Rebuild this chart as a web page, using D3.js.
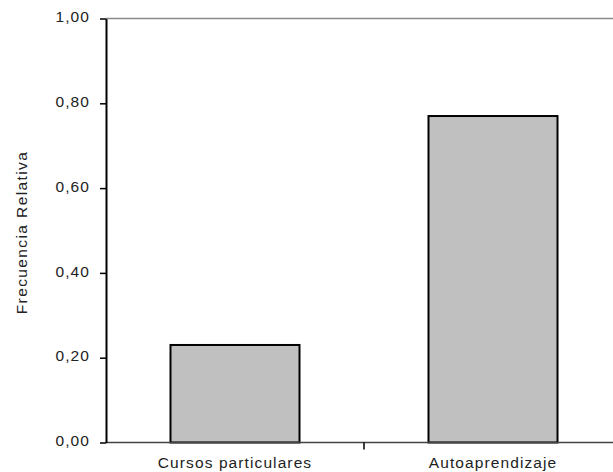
<!DOCTYPE html>
<html><head><meta charset="utf-8">
<script src="https://cdn.jsdelivr.net/npm/d3@7"></script>
<style>body{margin:0;background:#fff}svg{display:block}text{font-family:"Liberation Sans",Arial,sans-serif;fill:#222}</style>
</head><body>
<svg id="c" width="613" height="472"></svg>
<script>
const categories = ["Cursos particulares", "Autoaprendizaje"];
const values = [0.23, 0.77];
const yTicks = [0, 0.2, 0.4, 0.6, 0.8, 1.0];
const yLabel = "Frecuencia Relativa";

(function () {
const svg = d3.select("#c");
const mLeft = 106, mRight = 622, mTop = 18.5, mBottom = 442.5;
const x = d3.scaleBand().domain(categories).range([mLeft, mRight]).paddingInner(0).paddingOuter(0);
const y = d3.scaleLinear().domain([0, 1]).range([mBottom, mTop]);
const fmt = d => d3.format(".2f")(d).replace(".", ",");
const fs = 15.5, ls = 1.1;

// top border
svg.append("line").attr("x1", mLeft).attr("x2", mRight).attr("y1", mTop).attr("y2", mTop)
  .attr("stroke", "#8a8a8a").attr("stroke-width", 1.5);

// bars
const bw = x.bandwidth() * 0.5;
svg.selectAll("rect.bar").data(values).join("rect").attr("class", "bar")
  .attr("x", (d, i) => x(categories[i]) + (x.bandwidth() - bw) / 2)
  .attr("y", d => y(d)).attr("width", bw).attr("height", d => mBottom - y(d))
  .attr("fill", "#c0c0c0").attr("stroke", "#000").attr("stroke-width", 2);

// x axis
const xa = svg.append("g").attr("transform", `translate(0,${mBottom})`);
xa.append("line").attr("x1", mLeft).attr("x2", mRight).attr("stroke", "#444").attr("stroke-width", 1.5);
xa.selectAll("line.tk").data([x(categories[1])]).join("line").attr("class", "tk")
  .attr("x1", d => d).attr("x2", d => d).attr("y1", 0).attr("y2", 7).attr("stroke", "#000").attr("stroke-width", 1.5);
xa.selectAll("text").data(categories).join("text")
  .attr("x", d => x(d) + x.bandwidth() / 2).attr("y", 25.5)
  .attr("text-anchor", "middle").attr("font-size", fs).attr("letter-spacing", ls).text(d => d);

// y axis
const ya = svg.append("g").attr("transform", `translate(${mLeft},0)`)
  .call(d3.axisLeft(y).tickValues(yTicks).tickFormat(fmt).tickSizeInner(6).tickSizeOuter(0).tickPadding(10));
ya.select(".domain").attr("stroke", "#000").attr("stroke-width", 2);
ya.selectAll(".tick line").attr("stroke", "#000").attr("stroke-width", 1.5);
ya.selectAll(".tick text").attr("font-size", fs).attr("letter-spacing", ls).attr("dy", "0.2em")
  .attr("font-family", '"Liberation Sans",Arial,sans-serif').attr("fill", "#222");

svg.append("text").attr("transform", `translate(27,${(mTop + mBottom) / 2 + 2}) rotate(-90)`)
  .attr("text-anchor", "middle").attr("font-size", fs).attr("letter-spacing", ls + 0.3).text(yLabel);
})();
</script>
</body></html>
